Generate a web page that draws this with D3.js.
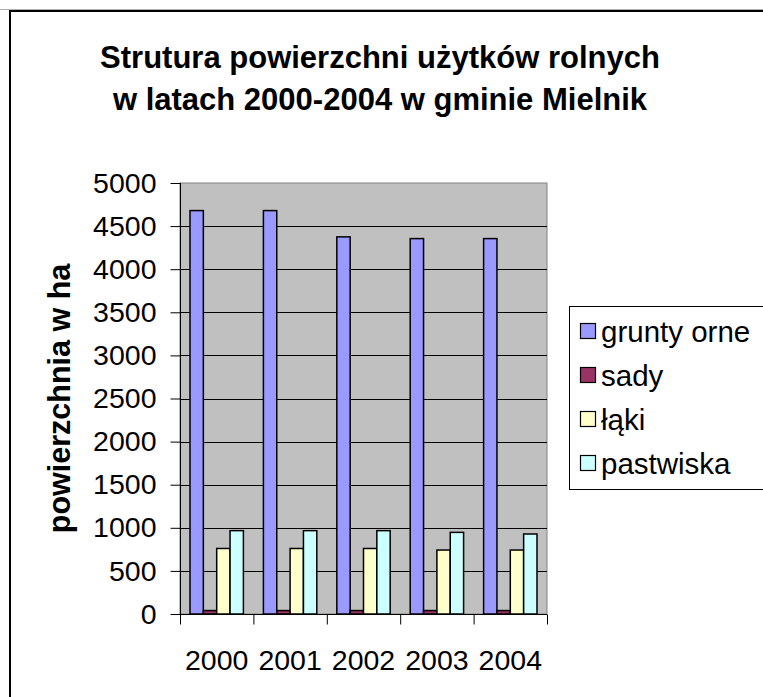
<!DOCTYPE html>
<html><head><meta charset="utf-8">
<script src="https://cdn.jsdelivr.net/npm/d3@7"></script>
<style>html,body{margin:0;padding:0;background:#fff;}svg{display:block;}</style>
</head><body>
<svg id="c" width="763" height="697"></svg>
<script>
const years = ["2000","2001","2002","2003","2004"];
const seriesNames = ["grunty orne","sady","łąki","pastwiska"];
const gruntyOrne = [4680, 4680, 4375, 4355, 4355];
const sady = [40, 40, 40, 40, 40];
const laki = [760, 760, 760, 742, 742];
const pastwiska = [967, 967, 967, 947, 928];
const seriesColors = ["#9999FF","#993366","#FFFFCC","#CCFFFF"];
const yTicks = [0,500,1000,1500,2000,2500,3000,3500,4000,4500,5000];
const titleLines = ["Strutura powierzchni użytków rolnych","w latach 2000-2004 w gminie Mielnik"];
const yTitle = "powierzchnia w ha";

const values = [gruntyOrne, sady, laki, pastwiska];
const svg = d3.select("#c");
const font = "Arial, 'Liberation Sans', sans-serif";

// page edge line and outer chart border
svg.append("line").attr("x1",0).attr("x2",763).attr("y1",9.5).attr("y2",9.5).attr("stroke","#b0b0b0").attr("stroke-width",1);
svg.append("rect").attr("x",10).attr("y",11).attr("width",800).attr("height",750)
  .attr("fill","none").attr("stroke","#000").attr("stroke-width",2);

const L=180, R=547, T=183, B=614;
const x0 = d3.scaleBand().domain(years).range([L,R]).paddingInner(0).paddingOuter(0);
const y = d3.scaleLinear().domain([0,5000]).range([B,T]);
const bw = x0.bandwidth()/5.5;
const x1 = d3.scaleBand().domain(seriesNames).range([bw*0.75, bw*4.75]).padding(0);

// plot area
svg.append("rect").attr("x",L).attr("y",T).attr("width",R-L).attr("height",B-T)
  .attr("fill","#C0C0C0").attr("stroke","#808080").attr("stroke-width",1);

// gridlines
svg.append("g").selectAll("line").data(yTicks.filter(d=>d>0&&d<5000)).join("line")
  .attr("x1",L).attr("x2",R).attr("y1",d=>Math.round(y(d))+0.5).attr("y2",d=>Math.round(y(d))+0.5)
  .attr("stroke","#000").attr("stroke-width",1);

// bars
const g = svg.append("g");
years.forEach((yr,i)=>{
  seriesNames.forEach((s,j)=>{
    const v = values[j][i];
    g.append("rect")
      .attr("x", x0(yr)+x1(s)).attr("width", x1.bandwidth())
      .attr("y", y(v)).attr("height", y(0)-y(v))
      .attr("fill", seriesColors[j]).attr("stroke","#000").attr("stroke-width",1.5);
  });
});

// y axis
const yAxis = d3.axisLeft(y).tickValues(yTicks).tickSize(10).tickPadding(14).tickFormat(d3.format("d"));
const ya = svg.append("g").attr("transform",`translate(${L+0.5},0)`).call(yAxis);
ya.select(".domain").attr("d",`M0,${T}V${B+10}`).attr("stroke","#000");
ya.selectAll(".tick line").attr("stroke","#000");
ya.selectAll("text").attr("font-family",font).attr("font-size",28.5).attr("fill","#000");

// x axis
const xAxis = d3.axisBottom(d3.scaleLinear().domain([0,5]).range([L,R])).tickValues([0,1,2,3,4,5]).tickSize(10).tickFormat("");
const xa = svg.append("g").attr("transform",`translate(0,${B+0.5})`).call(xAxis);
xa.select(".domain").attr("d",`M${L},0H${R}`).attr("stroke","#000");
xa.selectAll(".tick line").attr("stroke","#000");
svg.append("g").selectAll("text").data(years).join("text")
  .attr("x",d=>x0(d)+x0.bandwidth()/2).attr("y",670)
  .attr("text-anchor","middle").attr("font-family",font).attr("font-size",28.5).attr("fill","#000")
  .text(d=>d);

// title
svg.append("g").selectAll("text").data(titleLines).join("text")
  .attr("x",380).attr("y",(d,i)=>68+i*42).attr("text-anchor","middle")
  .attr("font-family",font).attr("font-weight","bold").attr("font-size",31).attr("fill","#000")
  .text(d=>d);

// y title
svg.append("text").attr("transform",`translate(70,${(T+B)/2}) rotate(-90)`)
  .attr("text-anchor","middle").attr("font-family",font).attr("font-weight","bold").attr("font-size",30.5)
  .attr("fill","#000").text(yTitle);

// legend
svg.append("rect").attr("x",569.5).attr("y",306.5).attr("width",220).attr("height",183)
  .attr("fill","#fff").attr("stroke","#000").attr("stroke-width",1);
const lg = svg.append("g");
seriesNames.forEach((s,j)=>{
  lg.append("rect").attr("x",580.5).attr("y",323.5+j*44).attr("width",15).attr("height",15)
    .attr("fill",seriesColors[j]).attr("stroke","#000").attr("stroke-width",1.2);
  lg.append("text").attr("x",601).attr("y",342+j*44).attr("font-family",font).attr("font-size",29.5)
    .attr("fill","#000").text(s);
});
</script>
</body></html>
